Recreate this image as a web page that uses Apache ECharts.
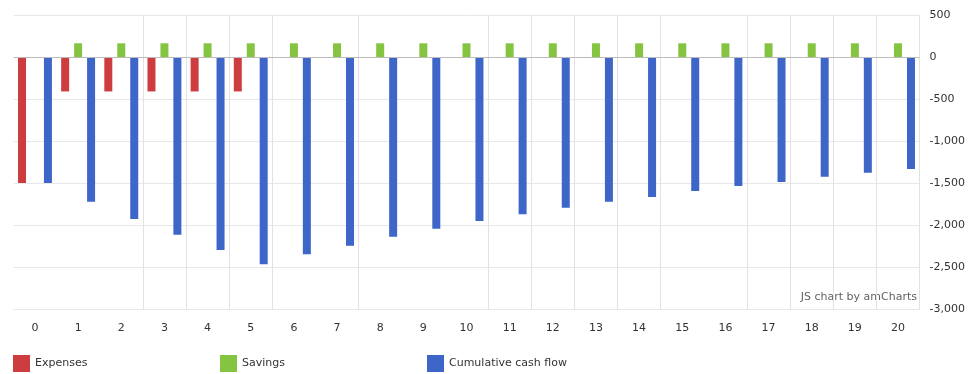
<!DOCTYPE html>
<html>
<head>
<meta charset="utf-8">
<script src="https://cdn.jsdelivr.net/npm/echarts@6/dist/echarts.min.js"></script>
<style>
html,body{margin:0;padding:0;background:#fff;}
#chart{width:969px;height:374px;}
</style>
</head>
<body>
<div id="chart"></div>
<script>
const categories = ['0','1','2','3','4','5','6','7','8','9','10','11','12','13','14','15','16','17','18','19','20'];
const expenses = [-1500, -410, -410, -410, -410, -410, null, null, null, null, null, null, null, null, null, null, null, null, null, null, null];
const savings = [null, 163, 163, 163, 163, 163, 163, 163, 163, 163, 163, 163, 163, 163, 163, 163, 163, 163, 163, 163, 163];
const cumulative = [-1500, -1722, -1929, -2115, -2298, -2468, -2349, -2246, -2139, -2044, -1952, -1873, -1794, -1722, -1667, -1595, -1536, -1488, -1425, -1377, -1333];
const yTicks = { min: -3000, max: 500, step: 500 };
const seriesNames = ['Expenses', 'Savings', 'Cumulative cash flow'];

const shownSplits = [3,4,5,6,8,11,12,13,14,15,17,18,19,20,21];
const font = 'DejaVu Sans, Verdana, sans-serif';
const colors = ['#cd3c3e', '#85c441', '#3e66c8'];
const legendLefts = [13, 220, 427];

const chart = echarts.init(document.getElementById('chart'), null, {renderer: 'canvas'});
const fmt = v => {
  const s = Math.abs(v).toString().replace(/\B(?=(\d{3})+(?!\d))/g, ',');
  return (v < 0 ? '-' : '') + s;
};
chart.setOption({
  animation: false,
  color: colors,
  textStyle: { fontFamily: font },
  grid: { left: 13.4, right: 49.4, top: 15, bottom: 65, containLabel: false },
  legend: seriesNames.map((n, i) => ({
    left: legendLefts[i], top: 355, itemWidth: 17, itemHeight: 17, itemGap: 0,
    icon: 'rect', padding: 0,
    textStyle: { fontSize: 11, color: '#333', fontFamily: font },
    data: [n]
  })),
  xAxis: {
    type: 'category',
    data: categories,
    axisLine: { show: false, onZero: false },
    axisTick: { show: false },
    axisLabel: { color: '#333', fontSize: 11, margin: 14, fontFamily: font },
    splitLine: {
      show: true,
      interval: (i) => shownSplits.indexOf(i) >= 0,
      lineStyle: { color: '#e2e2e2', width: 1 }
    }
  },
  yAxis: {
    type: 'value',
    position: 'right',
    min: yTicks.min, max: yTicks.max, interval: yTicks.step,
    axisLine: { show: false },
    axisTick: { show: false },
    axisLabel: { color: '#333', fontSize: 11, margin: 10, fontFamily: font, formatter: fmt },
    splitLine: { lineStyle: { color: '#e8e8e8', width: 1 } }
  },
  series: [
    { name: seriesNames[0], type: 'bar', data: expenses, barWidth: 8, barGap: '62%' },
    { name: seriesNames[1], type: 'bar', data: savings, barWidth: 8, barGap: '62%',
      markLine: { silent: true, symbol: 'none', label: { show: false },
        lineStyle: { color: '#bbbbbb', type: 'solid', width: 1 }, data: [{ yAxis: 0 }] } },
    { name: seriesNames[2], type: 'bar', data: cumulative, barWidth: 8, barGap: '62%' }
  ],
  graphic: [
    { type: 'text', right: 52, top: 292,
      style: { text: 'JS chart by amCharts', fill: '#444', font: '11px ' + font, opacity: 0.85,
        backgroundColor: 'rgba(255,255,255,0.6)' } },
    { type: 'line', shape: { x1: 919.6, y1: 15, x2: 919.6, y2: 309 }, style: { stroke: '#e2e2e2', lineWidth: 1 }, silent: true }
  ]
});
</script>
</body>
</html>
